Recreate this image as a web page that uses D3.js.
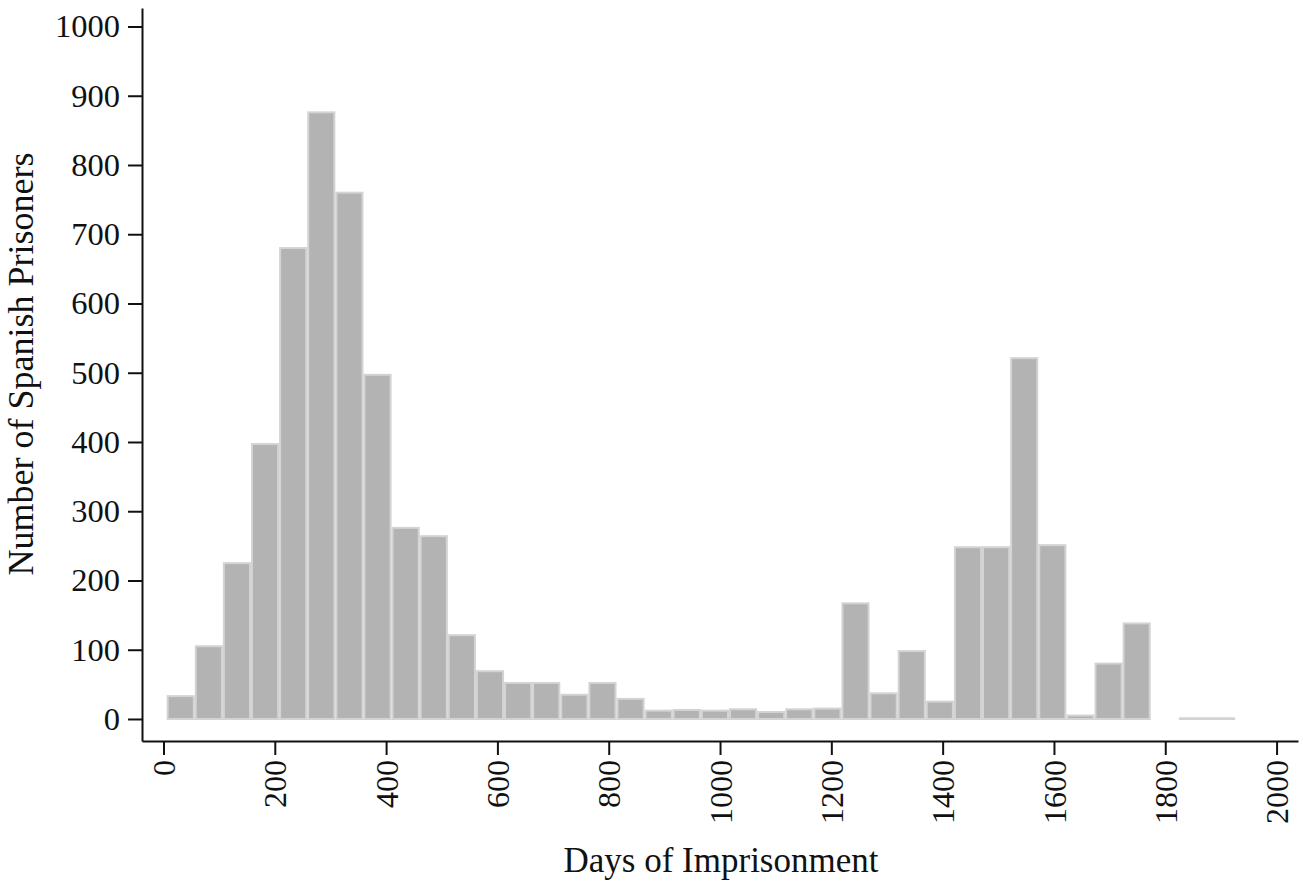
<!DOCTYPE html>
<html>
<head>
<meta charset="utf-8">
<script src="https://cdn.jsdelivr.net/npm/d3@7"></script>
<style>
  html, body { margin: 0; padding: 0; background: #fff; }
  svg { display: block; }
  text { font-family: "Liberation Serif", "Times New Roman", serif; fill: #111; }
</style>
</head>
<body>
<svg id="chart" width="1303" height="886"></svg>
<script>
// Histogram bins (days): start and width, and counts per bin
const binStart = 5.7;
const binWidth = 50.52;
const counts = [33, 105, 225, 397, 680, 876, 760, 497, 276, 264,
                121, 69, 52, 52, 35, 52, 29, 12, 13, 12,
                14, 10, 14, 15, 167, 37, 98, 25, 248, 248,
                521, 251, 5, 80, 138, 0, 1, 1];
const xTicks = [0, 200, 400, 600, 800, 1000, 1200, 1400, 1600, 1800, 2000];
const yTicks = [0, 100, 200, 300, 400, 500, 600, 700, 800, 900, 1000];
const xTitle = "Days of Imprisonment";
const yTitle = "Number of Spanish Prisoners";

const bins = counts.map((c, i) => ({
  x0: binStart + i * binWidth,
  x1: binStart + (i + 1) * binWidth,
  count: c
}));

const svg = d3.select("#chart");

// scales (domain extended so axis lines span the plot region)
const x = d3.scaleLinear().domain([-38.6, 2038.5]).range([142, 1298]);
const y = d3.scaleLinear().domain([-31.8, 1026.7]).range([741, 8]);

// bars
svg.append("g").selectAll("rect")
  .data(bins.filter(d => d.count > 0))
  .join("rect")
  .attr("x", d => x(d.x0) + 1)
  .attr("width", d => x(d.x1) - x(d.x0) - 2)
  .attr("y", d => y(d.count))
  .attr("height", d => Math.max(0.5, y(0) - y(d.count)))
  .attr("fill", "#b3b3b3")
  .attr("stroke", "#d3d3d3")
  .attr("stroke-width", 2);

const fmt = d3.format("d");

// y axis
const yAxis = d3.axisLeft(y).tickValues(yTicks).tickFormat(fmt).tickSize(14).tickSizeOuter(0).tickPadding(8);
const gy = svg.append("g").attr("transform", "translate(142,0)").call(yAxis);
gy.select(".domain").attr("stroke", "#111").attr("stroke-width", 2);
gy.selectAll(".tick line").attr("stroke", "#111").attr("stroke-width", 2);
gy.selectAll(".tick text").style("font-size", "32.5px").attr("fill", "#111")
  .style("font-family", "'Liberation Serif', serif");

// x axis
const xAxis = d3.axisBottom(x).tickValues(xTicks).tickFormat(fmt).tickSize(14).tickSizeOuter(0);
const gx = svg.append("g").attr("transform", "translate(0,741)").call(xAxis);
gx.select(".domain").attr("stroke", "#111").attr("stroke-width", 2);
gx.selectAll(".tick line").attr("stroke", "#111").attr("stroke-width", 2);
gx.selectAll(".tick text")
  .style("font-size", "32px").attr("fill", "#111")
  .style("font-family", "'Liberation Serif', serif")
  .attr("text-anchor", "end")
  .attr("x", 0).attr("y", 0)
  .attr("dy", "0.35em")
  .attr("transform", "translate(0,19) rotate(-90)");

// titles
svg.append("text")
  .attr("x", 721).attr("y", 872)
  .attr("text-anchor", "middle")
  .style("font-size", "35px")
  .text(xTitle);

svg.append("text")
  .attr("transform", "translate(33,364) rotate(-90)")
  .attr("text-anchor", "middle")
  .style("font-size", "36px")
  .text(yTitle);
</script>
</body>
</html>
